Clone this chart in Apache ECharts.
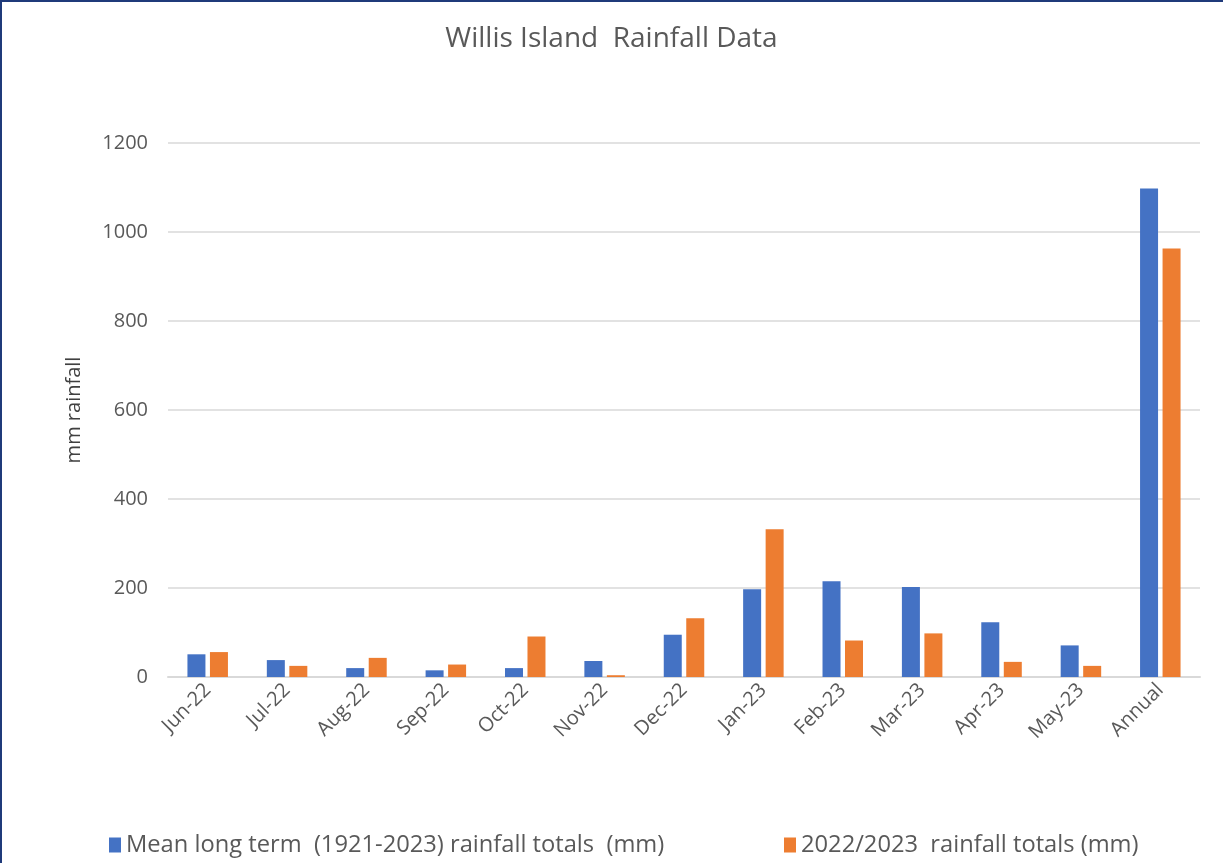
<!DOCTYPE html>
<html>
<head>
<meta charset="utf-8">
<script src="https://cdn.jsdelivr.net/npm/echarts@6/dist/echarts.min.js"></script>
<style>
  html, body { margin: 0; padding: 0; background: #fff; }
  #frame {
    position: absolute; left: 0; top: 0; width: 1223px; height: 863px;
    box-sizing: border-box; border-left: 2px solid #1f3a7a; border-top: 2px solid #1f3a7a;
  }
  #myChart { position: absolute; left: 0; top: 0; width: 1223px; height: 863px; }
</style>
</head>
<body>
<div id="frame"></div>
<div id="myChart"></div>
<script>
  // categories and values
  const months = ['Jun-22', 'Jul-22', 'Aug-22', 'Sep-22', 'Oct-22', 'Nov-22', 'Dec-22',
    'Jan-23', 'Feb-23', 'Mar-23', 'Apr-23', 'May-23', 'Annual'];
  const meanLongTerm = [51, 38, 20, 15, 20, 36, 95, 197, 215, 202, 123, 71, 1098];
  const season2223 = [56, 25, 43, 28, 91, 4, 132, 332, 82, 98, 34, 25, 963];
  const seriesNames = ['Mean long term  (1921-2023) rainfall totals  (mm)', '2022/2023  rainfall totals (mm)'];

  const font = '"Open Sans", "Noto Sans", sans-serif';
  let myChart = echarts.init(document.getElementById('myChart'));
  myChart.setOption({
    animation: false,
    title: {
      text: 'Willis Island  Rainfall Data',
      left: 'center',
      top: 20,
      textStyle: { fontFamily: font, fontSize: 28, fontWeight: 'normal', color: '#595959' }
    },
    legend: [
      {
        data: [seriesNames[0]],
        left: 104, top: 828,
        itemWidth: 12, itemHeight: 15, icon: 'rect', itemGap: 6,
        textStyle: { fontFamily: font, fontSize: 23.7, color: '#595959' }
      },
      {
        data: [seriesNames[1]],
        left: 779, top: 828,
        itemWidth: 12, itemHeight: 15, icon: 'rect',
        textStyle: { fontFamily: font, fontSize: 23.7, color: '#595959' }
      }
    ],
    grid: { left: 168, right: 23, top: 143, bottom: 186 },
    xAxis: {
      type: 'category',
      data: months,
      axisLine: { lineStyle: { color: '#d9d9d9', width: 2 } },
      axisTick: { show: false },
      axisLabel: { rotate: 45, fontFamily: font, fontSize: 20, color: '#595959', margin: 10 }
    },
    yAxis: {
      type: 'value',
      min: 0, max: 1200, interval: 200,
      name: 'mm rainfall',
      nameLocation: 'middle',
      nameGap: 84,
      nameTextStyle: { fontFamily: font, fontSize: 20, color: '#404040' },
      axisLabel: {
        fontFamily: font, fontSize: 20, color: '#595959', margin: 20,
        formatter: function (v) { return String(v); }
      },
      splitLine: { lineStyle: { color: '#d9d9d9', width: 1.5 } }
    },
    series: [
      {
        name: seriesNames[0], type: 'bar', data: meanLongTerm,
        barWidth: 18, barGap: '25%',
        itemStyle: { color: '#4472C4' }
      },
      {
        name: seriesNames[1], type: 'bar', data: season2223,
        barWidth: 18,
        itemStyle: { color: '#ED7D31' }
      }
    ]
  });
</script>
</body>
</html>
